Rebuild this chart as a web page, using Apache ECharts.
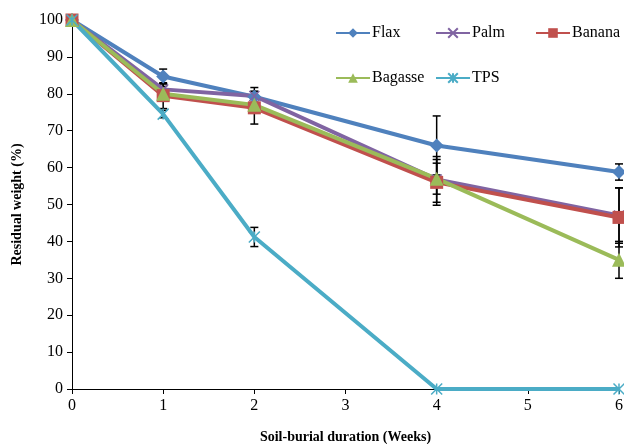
<!DOCTYPE html>
<html>
<head>
<meta charset="utf-8">
<script src="https://cdn.jsdelivr.net/npm/echarts@6/dist/echarts.min.js"></script>
<style>
  html, body { margin: 0; padding: 0; background: #fff; }
  #chart { width: 624px; height: 444px; }
</style>
</head>
<body>
<div id="chart"></div>
<script>
const weeks = [0, 1, 2, 4, 6];

const flax = [100, 84.7, 79.2, 66.0, 58.8];
const flaxErr = [0, 2.0, 1.5, 8.0, 2.2];
const palm = [100, 81.2, 79.4, 56.8, 47.0];
const palmErr = [0, 1.5, 2.3, 6.2, 7.5];
const banana = [100, 79.5, 76.2, 56.0, 46.5];
const bananaErr = [0, 3.5, 4.4, 6.2, 8.0];
const bagasse = [100, 80.0, 77.0, 57.0, 35.0];
const bagasseErr = [0, 2.0, 2.0, 4.2, 5.0];
const tps = [100, 74.5, 41.2, 0, 0];
const tpsErr = [0, 1.0, 2.6, 0, 0];

const FONT = "'Liberation Serif', 'DejaVu Serif', serif";

// stroked-only marker shapes
const X_MARK = 'path://M0,0L10,10M10,0L0,10';
const STAR_MARK = 'path://M5,0L5,10M0,0L10,10M10,0L0,10';

function lineSeries(name, vals, color, symbol, size, stroked) {
  return {
    name: name,
    type: 'line',
    data: weeks.map((w, i) => [w, vals[i]]),
    symbol: symbol,
    symbolSize: size,
    z: 3,
    lineStyle: { color: color, width: 4 },
    itemStyle: stroked
      ? { color: color, borderColor: color, borderWidth: 1.5 }
      : { color: color }
  };
}

function errSeries(vals, errs) {
  let data = [];
  weeks.forEach((w, i) => {
    if (errs[i] > 0) data.push([w, vals[i] - errs[i], vals[i] + errs[i]]);
  });
  return {
    type: 'custom',
    z: 2,
    silent: true,
    data: data,
    encode: { x: 0, y: [1, 2] },
    renderItem: function (params, api) {
      const lo = api.coord([api.value(0), api.value(1)]);
      const hi = api.coord([api.value(0), api.value(2)]);
      const hw = 4;
      const st = { stroke: '#000', lineWidth: 1.5 };
      return {
        type: 'group',
        children: [
          { type: 'line', shape: { x1: hi[0], y1: hi[1], x2: lo[0], y2: lo[1] }, style: st },
          { type: 'line', shape: { x1: hi[0] - hw, y1: hi[1], x2: hi[0] + hw, y2: hi[1] }, style: st },
          { type: 'line', shape: { x1: lo[0] - hw, y1: lo[1], x2: lo[0] + hw, y2: lo[1] }, style: st }
        ]
      };
    }
  };
}

function legendAt(name, left, top) {
  return {
    data: [name],
    left: left,
    top: top,
    itemWidth: 34,
    itemHeight: 12,
    itemGap: 0,
    selectedMode: false,
    padding: 0,
    textStyle: { fontFamily: FONT, fontSize: 16, color: '#000', padding: [0, 0, 0, -3] }
  };
}

const chart = echarts.init(document.getElementById('chart'));
chart.setOption({
  animation: false,
  backgroundColor: '#fff',
  grid: { left: 72, right: 5, top: 20, bottom: 55, outerBoundsMode: 'none' },
  legend: [
    legendAt('Flax', 335, 25),
    legendAt('Palm', 435, 25),
    legendAt('Banana', 535, 25),
    legendAt('Bagasse', 335, 70),
    legendAt('TPS', 435, 70)
  ],
  xAxis: {
    type: 'value',
    min: 0,
    max: 6,
    interval: 1,
    name: 'Soil-burial duration (Weeks)',
    nameLocation: 'middle',
    nameGap: 41,
    nameTextStyle: { fontFamily: FONT, fontSize: 14, fontWeight: 'bold', color: '#000' },
    axisLine: { lineStyle: { color: '#000', width: 1 } },
    axisTick: { length: 5, lineStyle: { color: '#000' } },
    axisLabel: { fontFamily: FONT, fontSize: 16, color: '#000', margin: 9 },
    splitLine: { show: false }
  },
  yAxis: {
    type: 'value',
    min: 0,
    max: 100,
    interval: 10,
    name: 'Residual weight (%)',
    nameLocation: 'middle',
    nameGap: 48,
    nameTextStyle: { fontFamily: FONT, fontSize: 14, fontWeight: 'bold', color: '#000' },
    axisLine: { show: true, lineStyle: { color: '#000', width: 1 } },
    axisTick: { show: true, length: 5, lineStyle: { color: '#000' } },
    axisLabel: { fontFamily: FONT, fontSize: 16, color: '#000', margin: 9 },
    splitLine: { show: false }
  },
  series: [
    errSeries(flax, flaxErr),
    errSeries(palm, palmErr),
    errSeries(banana, bananaErr),
    errSeries(bagasse, bagasseErr),
    errSeries(tps, tpsErr),
    lineSeries('Flax', flax, '#4F81BD', 'diamond', 14, false),
    lineSeries('Palm', palm, '#8064A2', X_MARK, 10, true),
    lineSeries('Banana', banana, '#C0504D', 'rect', 13, false),
    lineSeries('Bagasse', bagasse, '#9BBB59', 'triangle', 14, false),
    lineSeries('TPS', tps, '#4BACC6', STAR_MARK, 11, true)
  ]
});
</script>
</body>
</html>
